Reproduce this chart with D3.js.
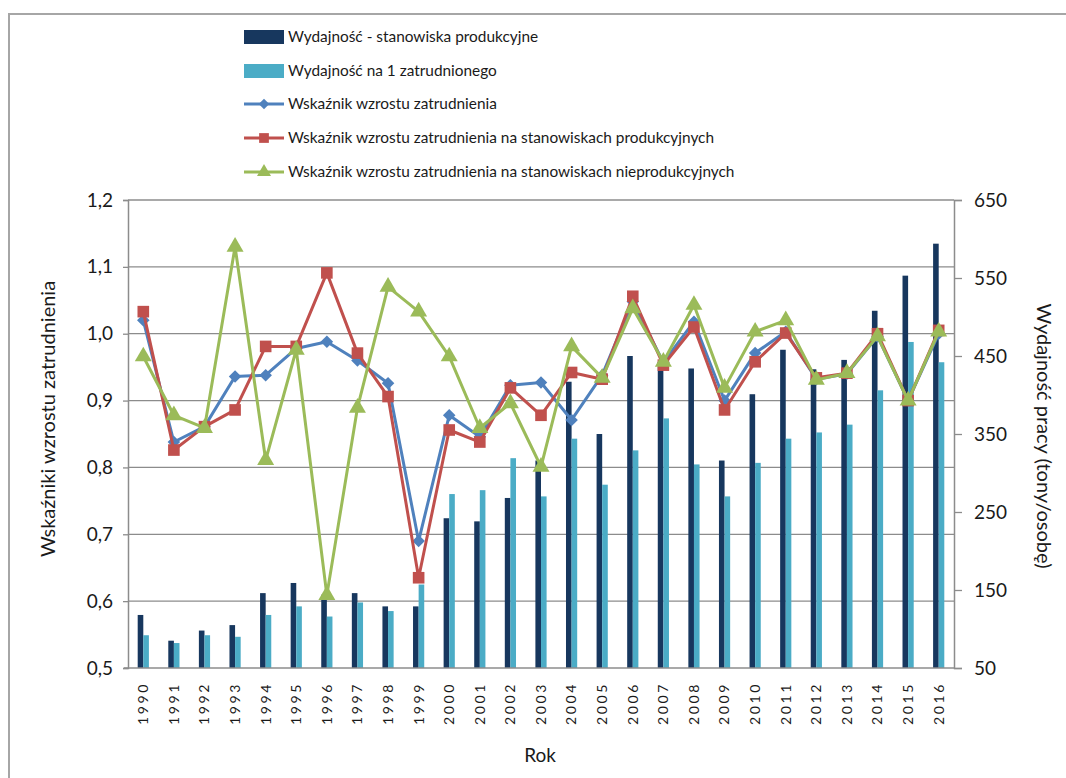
<!DOCTYPE html>
<html><head><meta charset="utf-8">
<script src="https://cdn.jsdelivr.net/npm/d3@7"></script>
<style>body{margin:0;background:#fff}svg{display:block}text{font-family:Lato,"Noto Sans",sans-serif;fill:#1a1a1a}</style>
</head><body><svg id="c" width="1066" height="778"></svg>
<script>
const years = [1990,1991,1992,1993,1994,1995,1996,1997,1998,1999,2000,2001,2002,2003,2004,2005,2006,2007,2008,2009,2010,2011,2012,2013,2014,2015,2016];
const wydProd = [118,85,98,105,146,159,144,146,129,129,242,238,268,316,417,350,450,436,434,316,401,458,433,445,508,553,594];
const wydZatr = [92,82,92,90,118,129,116,134,123,157,273,278,319,270,344,285,329,370,311,270,313,344,352,362,406,468,442];
const wskZatr = [1.020,0.838,0.861,0.936,0.938,0.978,0.988,0.960,0.926,0.690,0.878,0.846,0.923,0.927,0.871,0.938,1.048,0.957,1.018,0.900,0.971,1.003,0.932,0.940,0.996,0.900,1.000];
const wskProd = [1.033,0.826,0.861,0.886,0.981,0.981,1.091,0.971,0.906,0.635,0.856,0.838,0.919,0.878,0.942,0.932,1.056,0.953,1.010,0.886,0.958,1.001,0.934,0.941,1.000,0.900,1.005];
const wskNieprod = [0.966,0.878,0.859,1.130,0.811,0.976,0.609,0.889,1.070,1.033,0.966,0.859,0.896,0.801,0.981,0.934,1.038,0.958,1.043,0.919,1.003,1.020,0.931,0.941,0.996,0.900,1.003];
const leftTicks = [0.5,0.6,0.7,0.8,0.9,1.0,1.1,1.2];
const rightTicks = [50,150,250,350,450,550,650];
const legendLabels = ["Wydajność - stanowiska produkcyjne","Wydajność na 1 zatrudnionego","Wskaźnik wzrostu zatrudnienia","Wskaźnik wzrostu zatrudnienia na stanowiskach produkcyjnych","Wskaźnik wzrostu zatrudnienia na stanowiskach nieprodukcyjnych"];

const C = {dark:"#17375E", light:"#4BACC6", blue:"#4F81BD", red:"#C0504D", green:"#9BBB59", grid:"#8c8c8c"};
const svg = d3.select("#c");
const L=128, R=954, T=200, B=668;
const x = d3.scaleBand().domain(years).range([L,R]);
const yL = d3.scaleLinear().domain([0.5,1.2]).range([B,T]);
const yR = d3.scaleLinear().domain([50,650]).range([B,T]);
const fmt = d => d3.format(".1f")(d).replace(".",",");

// outer frame
svg.append("path").attr("d","M9,778V14H1066").attr("fill","none").attr("stroke","#a6a6a6").attr("stroke-width",2);

// gridlines
svg.append("g").selectAll("line").data(leftTicks.slice(1)).join("line")
  .attr("x1",L).attr("x2",R).attr("y1",d=>yL(d)).attr("y2",d=>yL(d))
  .attr("stroke",C.grid).attr("stroke-width",1.3);

// bars
const bw = 5.6;
const g = svg.append("g");
g.selectAll("rect.d").data(years).join("rect").attr("class","d")
  .attr("x",(d)=>x(d)+x.bandwidth()/2-bw).attr("width",bw)
  .attr("y",(d,i)=>yR(wydProd[i])).attr("height",(d,i)=>B-yR(wydProd[i])).attr("fill",C.dark);
g.selectAll("rect.l").data(years).join("rect").attr("class","l")
  .attr("x",(d)=>x(d)+x.bandwidth()/2).attr("width",bw)
  .attr("y",(d,i)=>yR(wydZatr[i])).attr("height",(d,i)=>B-yR(wydZatr[i])).attr("fill",C.light);

// axes
const axL = svg.append("g").attr("transform",`translate(${L},0)`)
  .call(d3.axisLeft(yL).tickValues(leftTicks).tickFormat(fmt).tickSize(5).tickPadding(10));
const axR = svg.append("g").attr("transform",`translate(${R},0)`)
  .call(d3.axisRight(yR).tickValues(rightTicks).tickSize(8).tickPadding(12));
[axL,axR].forEach(a=>{a.select(".domain").attr("stroke",C.grid).attr("stroke-width",1.5);
  a.selectAll(".tick line").attr("stroke",C.grid).attr("stroke-width",1.3);
  a.selectAll("text").style("font-size","19px").attr("fill","#1a1a1a");});
svg.append("line").attr("x1",L-4).attr("x2",R).attr("y1",B).attr("y2",B).attr("stroke",C.grid).attr("stroke-width",1.5);

const axB = svg.append("g").attr("transform",`translate(0,${B})`)
  .call(d3.axisBottom(x).tickSize(0).tickPadding(0));
axB.select(".domain").remove();
axB.selectAll("text").attr("transform","rotate(-90)").attr("text-anchor","end")
  .attr("x",-14).attr("y",0).attr("dy","0.35em").style("font-size","14px").style("letter-spacing","2.6px").attr("fill","#1a1a1a");

// lines
function series(vals,color,shape,size){
  const line = d3.line().x((d,i)=>x(years[i])+x.bandwidth()/2).y(d=>yL(d));
  svg.append("path").datum(vals).attr("d",line).attr("fill","none").attr("stroke",color).attr("stroke-width",3).attr("stroke-linejoin","round");
  svg.append("g").selectAll("path").data(vals).join("path")
    .attr("transform",(d,i)=>`translate(${x(years[i])+x.bandwidth()/2},${yL(d)})`)
    .attr("d",d3.symbol().type(shape).size(size)).attr("fill",color);
}
series(wskZatr,C.blue,d3.symbolDiamond2,100);
series(wskProd,C.red,d3.symbolSquare,135);
series(wskNieprod,C.green,d3.symbolTriangle,125);

// axis titles
svg.append("text").attr("transform","translate(55,419) rotate(-90)").attr("text-anchor","middle").style("font-size","20px").text("Wskaźniki wzrostu zatrudnienia");
svg.append("text").attr("transform","translate(1037,436) rotate(90)").attr("text-anchor","middle").style("font-size","20px").text("Wydajność pracy (tony/osobę)");
svg.append("text").attr("x",540).attr("y",762).attr("text-anchor","middle").style("font-size","19px").text("Rok");

// legend
const lg = svg.append("g");
const ly = [37,71,104,138,172];
const kinds = [{t:"bar",c:C.dark},{t:"bar",c:C.light},{t:"line",c:C.blue,s:d3.symbolDiamond2,z:70},{t:"line",c:C.red,s:d3.symbolSquare,z:95},{t:"line",c:C.green,s:d3.symbolTriangle,z:85}];
kinds.forEach((k,i)=>{
  if(k.t==="bar") lg.append("rect").attr("x",244).attr("y",ly[i]-7).attr("width",40).attr("height",14).attr("fill",k.c);
  else { lg.append("line").attr("x1",244).attr("x2",284).attr("y1",ly[i]).attr("y2",ly[i]).attr("stroke",k.c).attr("stroke-width",3);
    lg.append("path").attr("transform",`translate(264,${ly[i]})`).attr("d",d3.symbol().type(k.s).size(k.z)).attr("fill",k.c); }
  lg.append("text").attr("x",288).attr("y",ly[i]).attr("dy","0.35em").style("font-size","15.4px").text(legendLabels[i]);
});
</script></body></html>
